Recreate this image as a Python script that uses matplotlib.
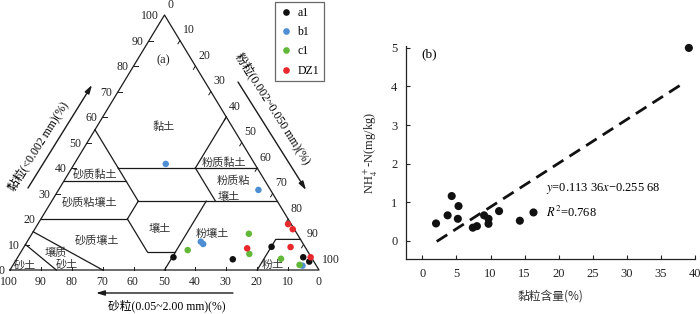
import matplotlib
matplotlib.use('Agg')
import matplotlib.pyplot as plt
import numpy as np
from matplotlib.lines import Line2D

plt.rcParams['font.family'] = ['Liberation Serif', 'Noto Sans CJK SC']
plt.rcParams['mathtext.fontset'] = 'stix'
plt.rcParams['axes.unicode_minus'] = True

# ---------------- data: ternary (clay, silt, sand in %) ----------------
groups = ['a1', 'b1', 'c1', 'DZ1']
group_colors = ['#111111', '#4e8fd3', '#63b83a', '#e8282c']

a1_clay = [5.0, 4.2, 9.1, 5.0, 3.3]
a1_silt = [50.4, 70.0, 80.1, 92.4, 95.2]
a1_sand = [44.6, 25.8, 10.8, 2.6, 1.5]

b1_clay = [41.6, 31.4, 11.1, 10.2, 1.7]
b1_silt = [29.6, 64.7, 56.2, 57.4, 93.8]
b1_sand = [28.8, 3.9, 32.7, 32.4, 4.5]

c1_clay = [7.8, 14.2, 6.3, 4.4, 2.0]
c1_silt = [53.6, 70.2, 74.3, 85.5, 92.7]
c1_sand = [38.6, 15.6, 19.4, 10.1, 5.3]

dz1_clay = [8.5, 18.0, 16.0, 9.0, 5.0]
dz1_silt = [72.5, 81.0, 83.5, 86.3, 94.8]
dz1_sand = [19.0, 1.0, 0.5, 4.7, 0.2]

# ---------------- data: scatter (clay content vs NH4-N) ----------------
clay_content = [2.0, 3.7, 4.3, 5.3, 5.2, 7.4, 8.0, 9.05, 9.7, 9.7, 11.25, 14.3, 16.3, 39.1]
nh4_n = [0.45, 0.66, 1.16, 0.90, 0.57, 0.34, 0.38, 0.66, 0.57, 0.44, 0.77, 0.52, 0.735, 5.0]
fit_slope = 0.11336
fit_intercept = -0.25568
fit_range = [2.1, 37.9]

tick_values = [0, 10, 20, 30, 40, 50, 60, 70, 80, 90, 100]

# USDA texture class boundaries, as (clay, silt) vertices
boundaries = [
    [(55, 0), (40, 15)],
    [(40, 15), (40, 60)],
    [(60, 40), (40, 40)],
    [(35, 0), (35, 20)],
    [(40, 15), (27, 28)],
    [(27, 28), (27, 73)],
    [(40, 40), (27, 53)],
    [(20, 0), (20, 28)],
    [(27, 28), (20, 28)],
    [(20, 28), (7, 41)],
    [(7, 41), (7, 50)],
    [(27, 50), (0, 50)],
    [(12, 88), (12, 80), (0, 80)],
    [(15, 0), (0, 30)],
    [(10, 0), (0, 15)],
]

CJK = ['Noto Sans CJK SC', 'Liberation Serif']


def tern(clay, silt):
    clay = np.asarray(clay, float)
    silt = np.asarray(silt, float)
    return silt / 100 + clay / 200, clay / 100


def P(px, py):
    """layout helper: pixel position on the left panel -> ternary axes coords"""
    return (px - 10) / 309, (270 - py) / 255


fig = plt.figure(figsize=(7, 3.14), dpi=100)

# ================= left: ternary =================
ax1 = fig.add_axes([0, 0, 340 / 700, 1])
ax1.set_xlim(-10 / 309, 330 / 309)
ax1.set_ylim(-44 / 255, 270 / 255)
ax1.axis('off')

lc = '#1a1a1a'
tx, ty = tern([0, 100, 0, 0], [0, 0, 100, 0])
ax1.plot(tx, ty, color=lc, lw=0.9, clip_on=False)
for seg in boundaries:
    c, s = zip(*seg)
    x, y = tern(c, s)
    ax1.plot(x, y, color=lc, lw=0.9)

# ticks and tick labels
tl = 1.3
for v in tick_values:
    # clay (left edge)
    x0, y0 = tern(v, 0)
    if 0 < v < 100:
        x1, y1 = tern(v, tl)
        ax1.plot([x0, x1], [y0, y1], color=lc, lw=0.7)
    ax1.annotate(str(v), (x0, y0), xytext=(-4.0, -1.0), textcoords='offset points',
                 ha='right', va='center', fontsize=8.5, color='#222222')
    # silt (right edge)
    x0, y0 = tern(100 - v, v)
    if 0 < v < 100:
        x1, y1 = tern(100 - v - tl, v)
        ax1.plot([x0, x1], [y0, y1], color=lc, lw=0.7)
    ax1.annotate(str(v), (x0, y0), xytext=(2.0, 7.5), textcoords='offset points',
                 ha='left', va='center', fontsize=8.5, color='#222222')
    # sand (bottom edge)
    x0, y0 = tern(0, 100 - v)
    if 0 < v < 100:
        x1, y1 = tern(tl, 100 - v - tl / 2)
        ax1.plot([x0, x1], [y0, y1], color=lc, lw=0.7)
    ax1.annotate(str(v), (x0, y0), xytext=(-0.5, -8.4), textcoords='offset points',
                 ha='center', va='center', fontsize=8.5, color='#222222')

# class labels
class_labels = [
    ('黏土', 164, 127), ('粉质黏土', 224, 163), ('粉质粘', 233, 181), ('壤土', 229, 197),
    ('砂质黏土', 95, 174), ('砂质粘壤土', 90, 203), ('壤土', 160, 229), ('粉壤土', 212, 234),
    ('砂质壤土', 97, 241), ('壤质', 56, 253), ('砂土', 67, 265), ('砂土', 25, 266), ('粉土', 273, 265),
]
for txt, px, py in class_labels:
    ax1.text(*P(px, py), txt, ha='center', va='center', fontsize=8, family=CJK, color='#333333')
ax1.text(*P(163, 60), '(a)', ha='center', va='center', fontsize=9, color='#222222')

# axis titles with arrows
arrow_kw = dict(arrowstyle='-|>,head_length=0.5,head_width=0.15', color=lc, lw=1.0,
                shrinkA=0, shrinkB=0)
ax1.annotate('', xy=P(92, 85), xytext=P(28, 188), arrowprops=arrow_kw, annotation_clip=False)
ax1.annotate('', xy=P(306, 190), xytext=P(238, 82), arrowprops=arrow_kw, annotation_clip=False)
ax1.annotate('', xy=P(96, 293), xytext=P(233, 293), arrowprops=arrow_kw, annotation_clip=False)
ax1.text(*P(38, 146), '黏粒(<0.002 mm)(%)', rotation=58, ha='center', va='center',
         fontsize=8.5, rotation_mode='anchor')
ax1.text(*P(273, 108), '粉粒(0.002~0.050 mm)(%)', rotation=-57.5, ha='center', va='center',
         fontsize=8.5, rotation_mode='anchor')
ax1.text(*P(167, 306), '砂粒(0.05~2.00 mm)(%)', ha='center', va='center', fontsize=8.5)

# points
handles = []
for name, col, cl, si in zip(groups, group_colors,
                             [a1_clay, b1_clay, c1_clay, dz1_clay],
                             [a1_silt, b1_silt, c1_silt, dz1_silt]):
    x, y = tern(cl, si)
    ax1.scatter(x, y, s=22, color=col, edgecolors='none', zorder=5, clip_on=False)
    handles.append(Line2D([], [], marker='o', ls='none', color=col, markersize=4.8,
                          markeredgewidth=0))

leg = fig.legend(handles, groups, loc='upper left', bbox_to_anchor=(275 / 700, 1 - 2 / 314),
                 frameon=True, fancybox=False, edgecolor='#444444', fontsize=8.5,
                 borderpad=0.4, labelspacing=0.62, handletextpad=0.5, handlelength=1.0,
                 borderaxespad=0)
leg.get_frame().set_linewidth(0.9)

# ================= right: scatter =================
ax2 = fig.add_axes([405.7 / 700, (314 - 259.3) / 314, (695 - 405.7) / 700, (259.3 - 46) / 314])
ax2.scatter(clay_content, nh4_n, s=34, color='#111111', edgecolors='none', zorder=5, clip_on=False)
xf = np.array(fit_range)
ax2.plot(xf, fit_slope * xf + fit_intercept, color='#111111', lw=2.0, dashes=(4.5, 2.6))
ax2.set_xlim(-2.45, 40)
ax2.set_ylim(-0.48, 5.05)
ax2.set_xticks(np.arange(0, 41, 5))
ax2.set_yticks(np.arange(0, 6, 1))
for sp in ['top', 'right']:
    ax2.spines[sp].set_visible(False)
for sp in ['left', 'bottom']:
    ax2.spines[sp].set_linewidth(0.9)
    ax2.spines[sp].set_color('#222222')
ax2.tick_params(direction='in', length=3, width=0.8, labelsize=9, pad=6, colors='#222222')
ax2.set_xlabel('黏粒含量(%)', family=CJK, fontsize=8.5, labelpad=7, color='#333333')
ax2.set_ylabel('NH$_4^+$-N(mg/kg)', fontsize=9, labelpad=8, color='#222222')
ax2.text(-0.1, 4.84, '(b)', ha='left', va='center', fontsize=9.5)
ax2.text(18.1, 1.36, '$y$=0.113 36$x$−0.255 68', ha='left', va='center', fontsize=9)
ax2.text(18.2, 0.74, '$R^2$=0.768', ha='left', va='center', fontsize=9)

fig.savefig('out.png', dpi=100)
